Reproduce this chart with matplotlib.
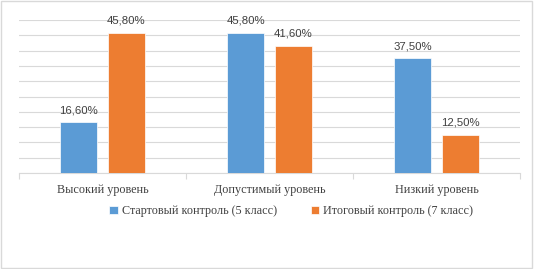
import numpy as np
import matplotlib
matplotlib.use('Agg')
import matplotlib.pyplot as plt
from matplotlib.patches import Rectangle

# data
categories = ['Высокий уровень', 'Допустимый уровень', 'Низкий уровень']
start_vals = [16.6, 45.8, 37.5]   # Стартовый контроль (5 класс)
final_vals = [45.8, 41.6, 12.5]   # Итоговый контроль (7 класс)
series_names = ['Стартовый контроль (5 класс)', 'Итоговый контроль (7 класс)']

blue = '#5B9BD5'
orange = '#ED7D31'
grid_col = '#D9D9D9'

fig = plt.figure(figsize=(5.34, 2.69), dpi=100)
ax = fig.add_axes([19/534, 1 - 173/269, 501/534, 153/269])

x = np.arange(len(categories))
w = 0.22
off = 0.143
b1 = ax.bar(x - off, start_vals, w, color=blue, edgecolor='white', linewidth=0.5,
            label=series_names[0], zorder=3)
b2 = ax.bar(x + off, final_vals, w, color=orange, edgecolor='white', linewidth=0.5,
            label=series_names[1], zorder=3)

for bars, vals in ((b1, start_vals), (b2, final_vals)):
    for rect, v in zip(bars, vals):
        txt = f'{v:.2f}%'.replace('.', ',')
        ax.annotate(txt, (rect.get_x() + rect.get_width() / 2, v),
                    xytext=(0, 5), textcoords='offset points',
                    ha='center', va='bottom', fontsize=8.2,
                    family='Liberation Sans', color='#404040')

ax.set_xlim(-0.5, 2.5)
ax.set_ylim(0, 50)
ax.set_yticks(np.arange(0, 51, 5))
ax.yaxis.grid(True, color=grid_col, linewidth=0.8, zorder=0)
ax.tick_params(axis='y', left=False, labelleft=False)

ax.set_xticks(x)
ax.set_xticklabels(categories, family='Liberation Serif', fontsize=8.7, color='#404040')
ax.tick_params(axis='x', length=0, pad=8)
ax.set_xticks([-0.5, 0.5, 1.5, 2.5], minor=True)
ax.tick_params(axis='x', which='minor', length=4, color=grid_col, width=0.8)

for s in ['top', 'right', 'left']:
    ax.spines[s].set_visible(False)
ax.spines['bottom'].set_color(grid_col)
ax.spines['bottom'].set_linewidth(0.8)

leg = fig.legend(handles=[b1, b2], loc='center', bbox_to_anchor=(0.545, 1 - 211/269),
                 ncol=2, frameon=False, handlelength=0.7, handleheight=0.7,
                 handletextpad=0.3, columnspacing=2.8,
                 prop={'family': 'Liberation Serif', 'size': 8.7})
for t in leg.get_texts():
    t.set_color('#404040')

# light frame round the whole chart
fig.patches.append(Rectangle((0.002, 0.004), 0.995, 0.992, transform=fig.transFigure,
                             fill=False, edgecolor=grid_col, linewidth=1))

fig.savefig('out.png', dpi=100)
